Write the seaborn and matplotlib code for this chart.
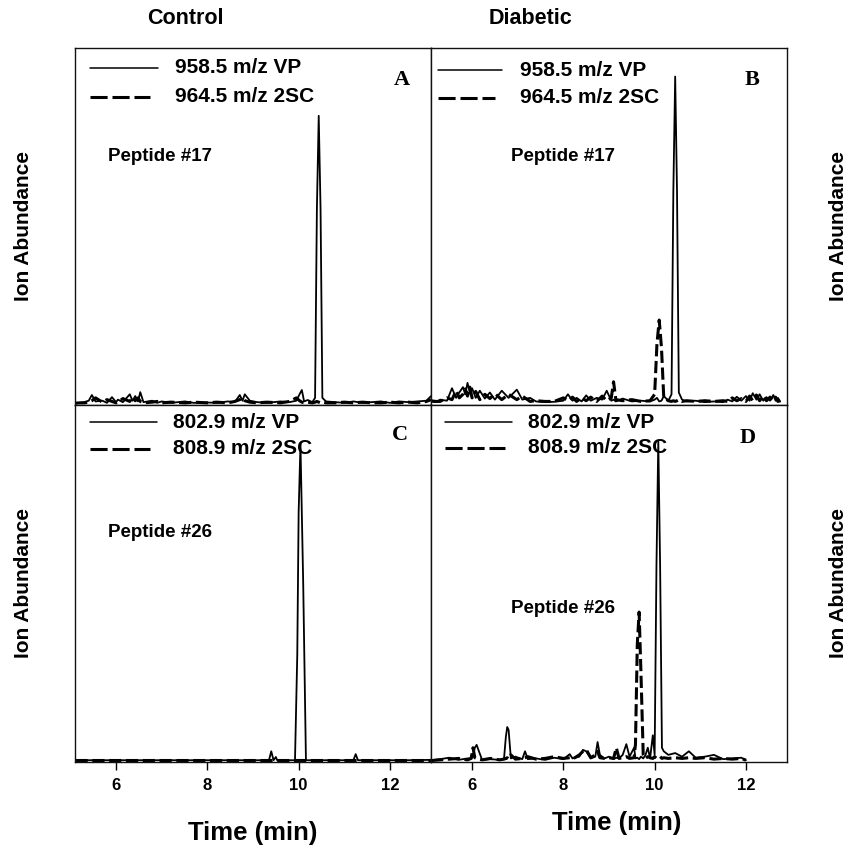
import matplotlib
matplotlib.use("Agg")
import matplotlib.pyplot as plt
import seaborn as sns

# ---- data (time in min, abundance scaled 0-1) ----
A_TIME = [5.1, 5.2, 5.3, 5.4, 5.47, 5.55, 5.7, 5.8, 5.91, 6.0,
          6.04, 6.15, 6.3, 6.36, 6.42, 6.48, 6.53, 6.6, 6.79, 6.9,
          7.0, 7.2, 7.51, 7.7, 8.0, 8.2, 8.45, 8.6, 8.71, 8.77,
          8.82, 8.93, 9.09, 9.3, 9.6, 9.8, 9.95, 10.02, 10.07, 10.12,
          10.2, 10.3, 10.36, 10.4, 10.44, 10.48, 10.52, 10.6, 10.8, 11.0,
          11.2, 11.4, 11.6, 11.8, 12.0, 12.2, 12.4, 12.6, 12.8, 12.9]
A_VP = [.006, .006, .008, .012, .028, .010, .012, .006, .022, .008,
        .015, .008, .030, .012, .025, .010, .036, .008, .012, .006,
        .010, .006, .010, .006, .007, .006, .010, .008, .028, .012,
        .030, .012, .008, .006, .010, .008, .012, .030, .042, .010,
        .014, .008, .020, .550, .810, .550, .020, .010, .008, .006,
        .010, .006, .008, .010, .006, .010, .008, .010, .012, .025]
A_2SC = [.005, .006, .006, .008, .012, .020, .008, .015, .010, .006,
         .008, .018, .010, .022, .012, .020, .010, .006, .008, .010,
         .006, .008, .006, .008, .006, .008, .006, .010, .015, .020,
         .012, .008, .006, .008, .006, .010, .020, .012, .008, .006,
         .008, .006, .008, .010, .008, .006, .008, .006, .006, .008,
         .006, .008, .006, .006, .008, .006, .008, .006, .010, .015]

B_TIME = [5.1, 5.2, 5.3, 5.45, 5.56, 5.65, 5.72, 5.8, 5.85, 5.9,
          5.95, 6.0, 6.08, 6.17, 6.28, 6.39, 6.5, 6.65, 6.8, 6.98,
          7.1, 7.27, 7.4, 7.6, 7.8, 8.0, 8.1, 8.2, 8.29, 8.4,
          8.5, 8.6, 8.73, 8.85, 8.95, 9.05, 9.1, 9.15, 9.3, 9.5,
          9.7, 9.9, 10.0, 10.05, 10.1, 10.15, 10.2, 10.3, 10.37, 10.41,
          10.45, 10.49, 10.53, 10.6, 10.7, 10.9, 11.1, 11.3, 11.5, 11.6,
          11.7, 11.8, 11.9, 12.0, 12.08, 12.15, 12.23, 12.3, 12.38, 12.45,
          12.53, 12.6, 12.65, 12.7, 12.75]
B_VP = [.010, .008, .015, .012, .047, .020, .035, .050, .030, .062,
        .035, .047, .020, .040, .018, .035, .015, .040, .020, .043,
        .015, .020, .010, .008, .009, .012, .030, .012, .020, .010,
        .027, .012, .020, .015, .040, .012, .015, .010, .018, .010,
        .012, .010, .015, .020, .010, .012, .025, .012, .030, .600,
        .920, .600, .035, .015, .010, .012, .008, .010, .008, .015,
        .010, .023, .012, .025, .012, .033, .015, .030, .012, .022,
        .012, .028, .012, .020, .010]
B_2SC = [.012, .010, .010, .020, .015, .040, .020, .030, .045, .025,
         .050, .020, .038, .015, .030, .018, .032, .015, .030, .015,
         .025, .010, .012, .010, .010, .020, .012, .022, .010, .020,
         .012, .022, .010, .025, .012, .020, .065, .015, .012, .015,
         .010, .012, .030, .170, .238, .160, .020, .012, .010, .012,
         .010, .012, .015, .010, .012, .010, .012, .010, .012, .010,
         .020, .012, .018, .010, .025, .012, .028, .012, .025, .012,
         .022, .012, .022, .010, .012]

C_TIME = [5.1, 5.6, 6.2, 6.8, 7.4, 8.0, 8.6, 9.2, 9.35, 9.4,
          9.45, 9.5, 9.53, 9.56, 9.7, 9.92, 9.97, 10.0, 10.04, 10.1,
          10.16, 10.3, 10.8, 11.2, 11.25, 11.3, 11.8, 12.4, 12.9]
C_VP = [.005, .005, .005, .005, .005, .005, .005, .005, .005, .030,
        .005, .014, .005, .005, .005, .005, .300, .700, .890, .500,
        .005, .005, .005, .005, .022, .005, .005, .005, .006]
C_2SC = [.005, .005, .005, .005, .005, .005, .005, .005, .005, .005,
         .005, .005, .005, .005, .005, .005, .005, .005, .005, .005,
         .005, .005, .005, .005, .005, .005, .005, .005, .005]

D_TIME = [5.1, 5.3, 5.5, 5.7, 5.9, 5.98, 6.02, 6.06, 6.1, 6.15,
          6.22, 6.4, 6.6, 6.7, 6.74, 6.77, 6.8, 6.85, 6.95, 7.1,
          7.16, 7.22, 7.4, 7.6, 7.8, 8.0, 8.14, 8.2, 8.35, 8.43,
          8.5, 8.6, 8.7, 8.75, 8.8, 8.9, 9.0, 9.1, 9.16, 9.22,
          9.3, 9.38, 9.45, 9.55, 9.58, 9.62, 9.66, 9.7, 9.75, 9.8,
          9.85, 9.9, 9.96, 10.0, 10.04, 10.08, 10.12, 10.16, 10.2, 10.3,
          10.45, 10.6, 10.75, 10.9, 11.1, 11.3, 11.5, 11.7, 11.9, 12.0]
D_VP = [.005, .008, .012, .006, .010, .010, .015, .040, .048, .030,
        .006, .008, .006, .010, .070, .098, .090, .010, .015, .008,
        .030, .008, .010, .006, .012, .008, .022, .010, .015, .034,
        .030, .010, .015, .056, .020, .010, .015, .008, .012, .010,
        .020, .050, .015, .040, .010, .012, .008, .015, .010, .020,
        .040, .010, .075, .020, .550, .900, .550, .040, .030, .020,
        .025, .015, .030, .012, .015, .020, .008, .010, .012, .005]
D_2SC = [.004, .006, .008, .010, .006, .010, .040, .012, .010, .008,
         .006, .010, .006, .008, .010, .012, .008, .020, .008, .010,
         .012, .015, .008, .010, .015, .010, .012, .008, .020, .030,
         .035, .012, .020, .030, .012, .010, .012, .010, .040, .010,
         .012, .015, .010, .012, .050, .330, .420, .250, .020, .010,
         .015, .012, .010, .015, .010, .012, .015, .010, .012, .010,
         .012, .010, .012, .010, .012, .008, .010, .008, .010, .005]

KEY_LABELS = {"A": ["958.5 m/z VP", "964.5 m/z 2SC"],
              "B": ["958.5 m/z VP", "964.5 m/z 2SC"],
              "C": ["802.9 m/z VP", "808.9 m/z 2SC"],
              "D": ["802.9 m/z VP", "808.9 m/z 2SC"]}
PEPTIDES = {"A": "Peptide #17", "B": "Peptide #17",
            "C": "Peptide #26", "D": "Peptide #26"}
COLUMN_TITLES = ["Control", "Diabetic"]
TIME_TICKS = [6, 8, 10, 12]


def draw_traces(ax, time, vp, sc):
    """Solid VP trace and dashed 2SC trace"""
    sns.lineplot(x=time, y=vp, ax=ax, color="black", linewidth=1.3,
                 estimator=None, sort=False)
    sns.lineplot(x=time, y=sc, ax=ax, color="black", linewidth=2.2,
                 estimator=None, sort=False)
    ax.lines[-1].set_dashes((4, 1.5))


def add_key(ax, labels, x0, x1, x1d, xt, y1, y2):
    """hand made legend, the original has no frame"""
    ax.plot([x0, x1], [y1, y1], transform=ax.transAxes, color="black", lw=1.1)
    ax.plot([x0, x1d], [y2, y2], transform=ax.transAxes, color="black", lw=2.2,
            dashes=(5.6, 1.6))
    for y, lab in zip([y1, y2], labels):
        ax.text(xt, y, lab, transform=ax.transAxes, fontsize=15,
                fontweight="bold", va="center", ha="left")


def style_axes(ax, bottom_row):
    ax.set_xlim(5.1, 12.9)
    ax.set_ylim(0, 1)
    ax.set_yticks([])
    ax.set_ylabel("")
    ax.set_xlabel("")
    if bottom_row:
        ax.set_xticks(TIME_TICKS)
        ax.tick_params(axis="x", direction="out", length=5.8, width=1,
                       pad=6, labelsize=12, color="black", labelcolor="black")
        for lab in ax.get_xticklabels():
            lab.set_fontweight("bold")
    else:
        ax.set_xticks([])
    for spine in ax.spines.values():
        spine.set_visible(True)
        spine.set_color("#111111")
        spine.set_linewidth(1.0)


if __name__ == "__main__":
    sns.set_style("ticks")
    plt.rcParams["font.family"] = ["Liberation Sans", "DejaVu Sans"]
    plt.rcParams["text.color"] = "black"

    W, H = 851, 848
    fig = plt.figure(figsize=(W / 100, H / 100), dpi=100)

    # panel boxes in pixels: x0, x1, y_top, y_bottom
    boxes = {"A": (75, 431, 48, 405), "B": (431, 787, 48, 405),
             "C": (75, 431, 405, 762), "D": (431, 787, 405, 762)}
    data = {"A": (A_TIME, A_VP, A_2SC), "B": (B_TIME, B_VP, B_2SC),
            "C": (C_TIME, C_VP, C_2SC), "D": (D_TIME, D_VP, D_2SC)}
    key_pos = {"A": (0.042, 0.233, 0.211, 0.281, 0.944, 0.863),
               "B": (0.020, 0.199, 0.180, 0.250, 0.938, 0.860),
               "C": (0.042, 0.230, 0.211, 0.276, 0.952, 0.878),
               "D": (0.039, 0.228, 0.208, 0.272, 0.952, 0.880)}
    letter_pos = {"A": (0.918, 0.910), "B": (0.902, 0.910),
                  "C": (0.913, 0.916), "D": (0.890, 0.908)}
    pep_pos = {"A": (0.093, 0.695), "B": (0.225, 0.695),
               "C": (0.093, 0.644), "D": (0.225, 0.431)}

    for key, (x0, x1, yt, yb) in boxes.items():
        ax = fig.add_axes([x0 / W, 1 - yb / H, (x1 - x0) / W, (yb - yt) / H])
        draw_traces(ax, *data[key])
        style_axes(ax, bottom_row=key in "CD")
        add_key(ax, KEY_LABELS[key], *key_pos[key])
        ax.text(*letter_pos[key], key, transform=ax.transAxes, fontsize=16,
                fontweight="bold", family="Liberation Serif",
                ha="center", va="center")
        ax.text(*pep_pos[key], PEPTIDES[key], transform=ax.transAxes,
                fontsize=13.5, fontweight="bold", ha="left", va="center")

    # column titles, axis titles
    for title, x in zip(COLUMN_TITLES, [185, 530]):
        fig.text(x / W, 1 - 18 / H, title, fontsize=15.5, fontweight="bold",
                 ha="center", va="center")
    for x in [24, 838]:
        for y in [226, 583]:
            fig.text(x / W, 1 - y / H, "Ion Abundance", rotation=90,
                     fontsize=15, fontweight="bold", ha="center", va="center")
    for x, y in [(253, 833), (617, 823)]:
        fig.text(x / W, 1 - y / H, "Time (min)", fontsize=18.5,
                 fontweight="bold", ha="center", va="center")

    fig.savefig("out.png", dpi=100)
    plt.close()
